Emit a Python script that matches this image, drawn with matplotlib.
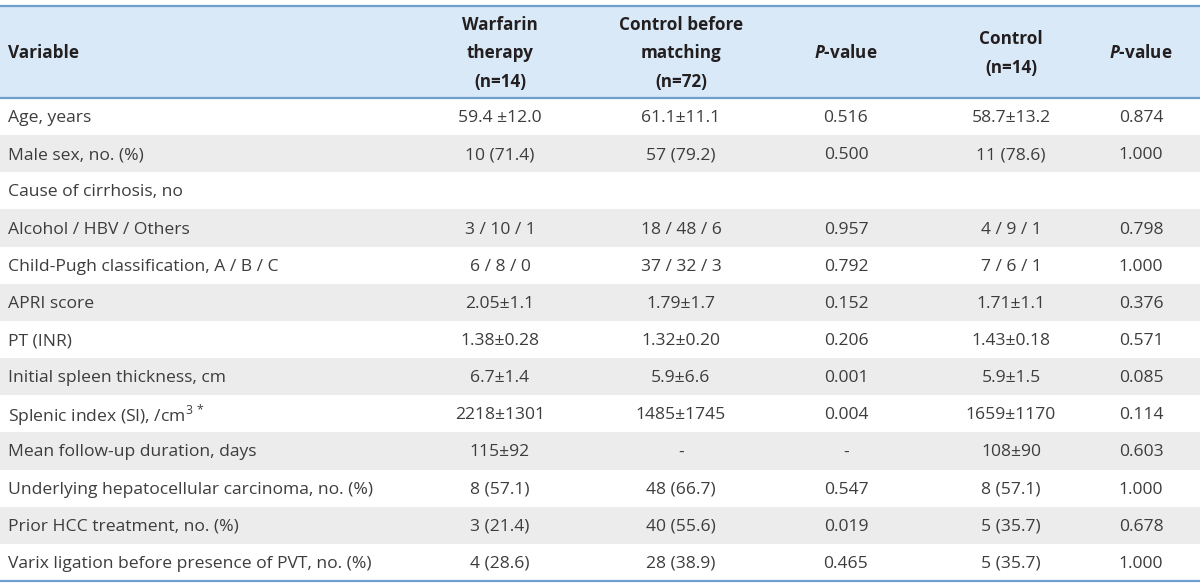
import matplotlib
matplotlib.use("Agg")
import matplotlib.pyplot as plt

# table data
variables = [
    "Age, years",
    "Male sex, no. (%)",
    "Cause of cirrhosis, no",
    "Alcohol / HBV / Others",
    "Child-Pugh classification, A / B / C",
    "APRI score",
    "PT (INR)",
    "Initial spleen thickness, cm",
    "Splenic index (SI), /cm$^{3\\,*}$",
    "Mean follow-up duration, days",
    "Underlying hepatocellular carcinoma, no. (%)",
    "Prior HCC treatment, no. (%)",
    "Varix ligation before presence of PVT, no. (%)",
]
warfarin = ["59.4 \u00b112.0", "10 (71.4)", "", "3 / 10 / 1", "6 / 8 / 0", "2.05\u00b11.1",
            "1.38\u00b10.28", "6.7\u00b11.4", "2218\u00b11301", "115\u00b192", "8 (57.1)",
            "3 (21.4)", "4 (28.6)"]
control_before = ["61.1\u00b111.1", "57 (79.2)", "", "18 / 48 / 6", "37 / 32 / 3", "1.79\u00b11.7",
                  "1.32\u00b10.20", "5.9\u00b16.6", "1485\u00b11745", "-", "48 (66.7)",
                  "40 (55.6)", "28 (38.9)"]
p_before = ["0.516", "0.500", "", "0.957", "0.792", "0.152", "0.206", "0.001", "0.004", "-",
            "0.547", "0.019", "0.465"]
control = ["58.7\u00b113.2", "11 (78.6)", "", "4 / 9 / 1", "7 / 6 / 1", "1.71\u00b11.1",
           "1.43\u00b10.18", "5.9\u00b11.5", "1659\u00b11170", "108\u00b190", "8 (57.1)",
           "5 (35.7)", "5 (35.7)"]
p_matched = ["0.874", "1.000", "", "0.798", "1.000", "0.376", "0.571", "0.085", "0.114", "0.603",
             "1.000", "0.678", "1.000"]
headers = ["Variable", "Warfarin\ntherapy\n(n=14)", "Control before\nmatching\n(n=72)",
           "$\\mathbfit{P}$-value", "Control\n(n=14)", "$\\mathbfit{P}$-value"]

plt.rcParams["font.family"] = ["Open Sans", "DejaVu Sans"]
plt.rcParams["mathtext.fontset"] = "custom"
plt.rcParams["mathtext.rm"] = "Open Sans"
plt.rcParams["mathtext.bfit"] = "Open Sans:italic:bold"

fig = plt.figure(figsize=(12, 5.83), dpi=100)
ax = fig.add_axes([0, 0, 1, 1])
ax.set_xlim(0, 1200)
ax.set_ylim(583, 0)
ax.axis("off")

top, head_bot, bottom = 6, 98, 581
row_h = (bottom - head_bot) / len(variables)
col_x = [8, 500, 681, 846, 1011, 1141]
line_c = "#6d9fcf"
txt_c = "#3d3d3d"

# header
ax.axhspan(top, head_bot, color="#d9e9f7", lw=0)
ax.axhline(top, color=line_c, lw=1.6)
ax.axhline(head_bot, color=line_c, lw=1.6)
ax.axhline(bottom, color=line_c, lw=1.6)

for i, h in enumerate(headers):
    ax.text(col_x[i], (top + head_bot) / 2 + 1.5, h, ha="left" if i == 0 else "center",
            va="center", fontsize=12.3, fontweight="bold", color="#231f20",
            linespacing=1.72)

columns = [warfarin, control_before, p_before, control, p_matched]
for r, name in enumerate(variables):
    y0 = head_bot + r * row_h
    if r % 2 == 1:
        ax.axhspan(y0, y0 + row_h, color="#ececec", lw=0, zorder=0)
    yc = y0 + row_h / 2 + 1.5
    ax.text(col_x[0], yc, name, ha="left", va="center", fontsize=12.6, color=txt_c)
    for c, col in enumerate(columns):
        ax.text(col_x[c + 1], yc, col[r], ha="center", va="center", fontsize=12.6, color=txt_c)

fig.savefig("out.png", dpi=100)
